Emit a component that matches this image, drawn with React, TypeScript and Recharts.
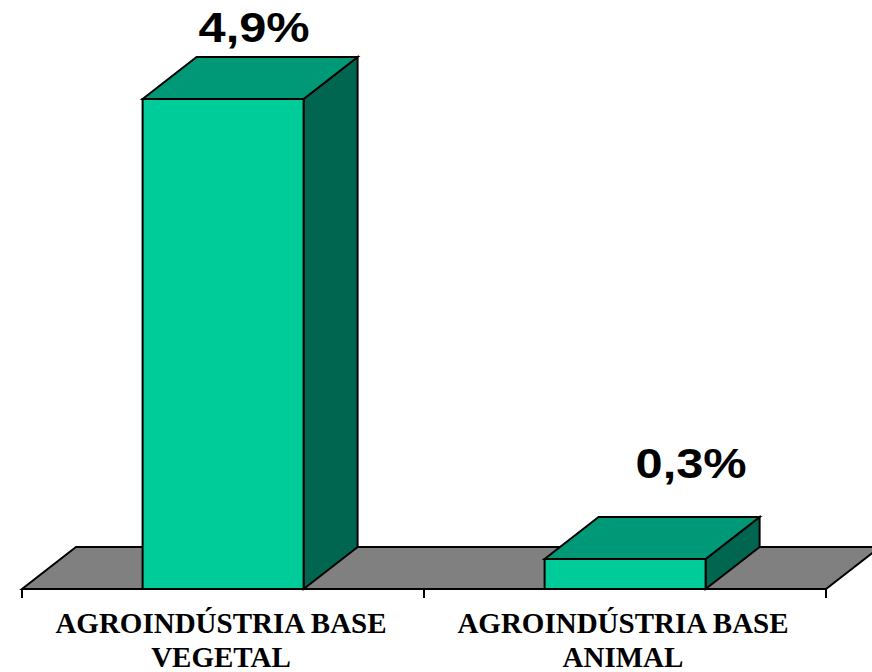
import React from 'react';
import { BarChart, Bar, XAxis, YAxis, ReferenceArea, LabelList } from 'recharts';

const categories = ['AGROINDÚSTRIA BASE VEGETAL', 'AGROINDÚSTRIA BASE ANIMAL'];
const shares = [4.9, 0.3];
const shareLabels = ['4,9%', '0,3%'];

const data = categories.map((name, i) => ({ name, value: shares[i], label: shareLabels[i] }));

// 3D look
const DX = 54;
const DY = 42;
const FRONT = '#00CC99';
const TOP = '#009977';
const SIDE = '#006650';
const FLOOR = '#808080';
// Excel put the value labels at slightly different spots per bar
const labelShift = [
  { dx: 31, dy: -57 },
  { dx: 66, dy: -81 },
];

function Bar3D(props: any) {
  const { x, y, width, height } = props;
  if (width == null || height == null) return null;
  const b = y + height;
  return (
    <g stroke="#000" strokeWidth={2} strokeLinejoin="miter">
      <polygon points={`${x + width},${y} ${x + width + DX},${y - DY} ${x + width + DX},${b - DY} ${x + width},${b}`} fill={SIDE} />
      <polygon points={`${x},${y} ${x + DX},${y - DY} ${x + width + DX},${y - DY} ${x + width},${y}`} fill={TOP} />
      <rect x={x} y={y} width={width} height={height} fill={FRONT} />
    </g>
  );
}

function Floor(props: any) {
  const { x, y, width, height } = props;
  const b = y + height;
  const n = categories.length;
  const ticks = Array.from({ length: n + 1 }, (_, i) => x + (i * width) / n);
  return (
    <g>
      <polygon
        points={`${x},${b} ${x + DX},${y} ${x + width + DX},${y} ${x + width},${b}`}
        fill={FLOOR}
        stroke="#000"
        strokeWidth={2}
      />
      {ticks.map((tx, i) => (
        <line key={i} x1={tx} y1={b} x2={tx} y2={b + 9} stroke="#000" strokeWidth={2} />
      ))}
    </g>
  );
}

function CatTick(props: any) {
  const { x, payload } = props;
  const s = String(payload.value);
  const cut = s.lastIndexOf(' ');
  const lines = [s.slice(0, cut), s.slice(cut + 1)];
  return (
    <text
      x={x}
      textAnchor="middle"
      fontFamily="'Liberation Serif', 'Times New Roman', serif"
      fontWeight="bold"
      fontSize={29}
      fill="#000"
    >
      <tspan x={x - 2} y={633}>{lines[0]}</tspan>
      <tspan x={x - 2} y={667}>{lines[1]}</tspan>
    </text>
  );
}

function ValueLabel(props: any) {
  const { x, y, width, value, index } = props;
  const sh = labelShift[index] || { dx: 40, dy: -60 };
  const cx = x + width / 2 + sh.dx;
  const cy = y + sh.dy;
  return (
    <g transform={`translate(${cx},${cy}) scale(1.16,1)`}>
      <text
        x={0}
        y={0}
        textAnchor="middle"
        fontFamily="'Liberation Sans', Arial, sans-serif"
        fontWeight="bold"
        fontSize={42}
        fill="#000"
      >
        {value}
      </text>
    </g>
  );
}

export default function App() {
  return (
    <div style={{ position: 'absolute', left: 0, top: 0, width: 872, height: 672, background: '#fff', overflow: 'hidden' }}>
      <BarChart
        width={872}
        height={672}
        data={data}
        margin={{ top: 89, right: 46, bottom: 0, left: 22 }}
        barCategoryGap="30%"
        style={{ overflow: 'hidden' }}
      >
        <XAxis dataKey="name" axisLine={false} tickLine={false} tick={<CatTick />} interval={0} height={83} />
        <YAxis hide domain={[0, 5]} />
        <ReferenceArea y1={0} y2={DY / 100} shape={<Floor />} ifOverflow="visible" />
        <Bar dataKey="value" shape={<Bar3D />} isAnimationActive={false}>
          <LabelList dataKey="label" content={<ValueLabel />} />
        </Bar>
      </BarChart>
    </div>
  );
}
